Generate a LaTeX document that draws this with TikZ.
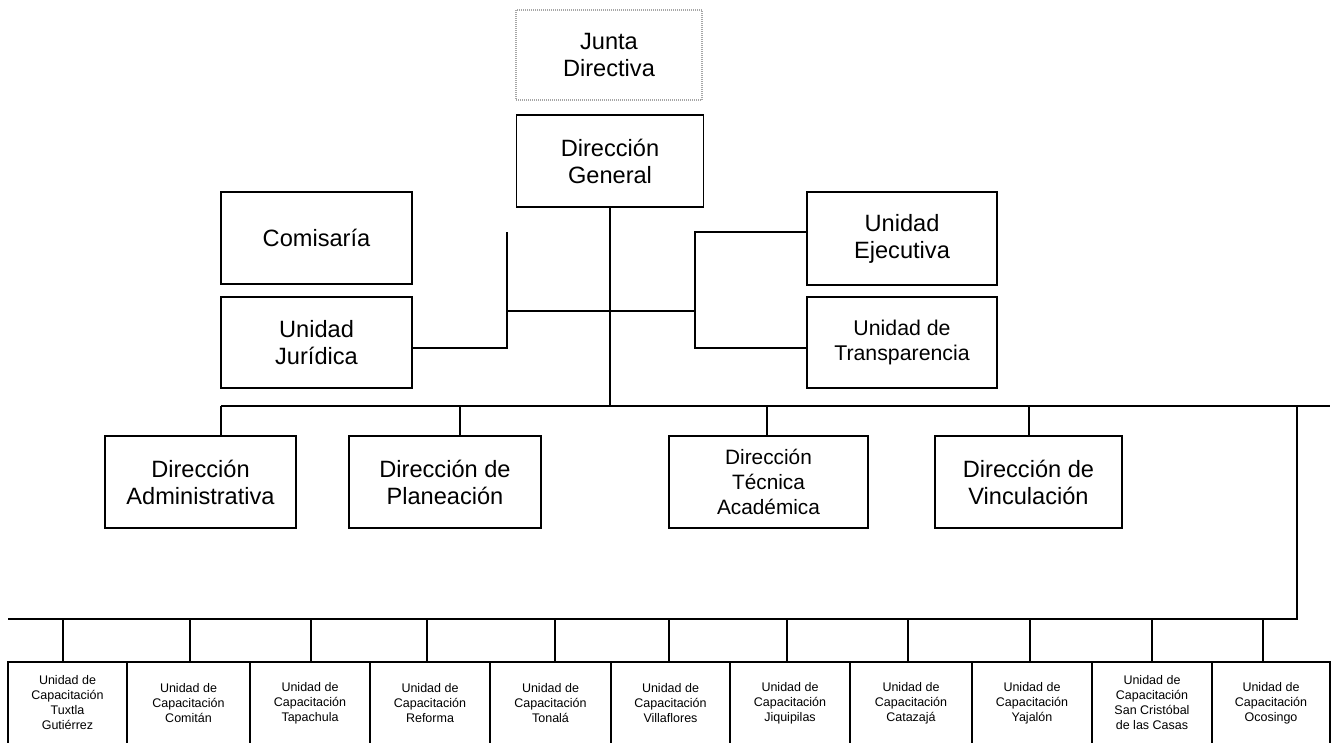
\documentclass[tikz,border=0pt]{standalone}
\usepackage{fontspec}
\setmainfont{Liberation Sans}
\begin{document}
\begin{tikzpicture}[x=1pt,y=-1pt,
  box/.style={draw, line width=1.9pt, align=center, inner sep=0pt, font=\fontsize{23.6}{27}\selectfont},
  midbox/.style={box, font=\fontsize{21.3}{25}\selectfont},
  tecbox/.style={box, font=\fontsize{20.8}{25}\selectfont},
  ubox/.style={draw, line width=1.9pt, align=center, inner sep=0pt, font=\fontsize{12.5}{15}\selectfont},
  dotbox/.style={draw=gray!70, line width=1.2pt, dash pattern=on 1pt off 1pt, align=center, inner sep=0pt, font=\fontsize{23.6}{27}\selectfont},
  sz/.style 2 args={minimum width=#1pt, minimum height=#2pt},
  conn/.style={line width=1.9pt}]
\useasboundingbox (0,0) rectangle (1335,742);

% top
\node[dotbox, sz={186}{90}] (junta) at (609,55) {Junta\\Directiva};
\node[box, sz={187}{92}] (dg) at (610,161) {Dirección\\General};

% staff units
\node[box, sz={191}{92}] (comisaria) at (316.5,238) {Comisaría};
\node[box, sz={191}{91}] (juridica) at (316.5,342.5) {Unidad\\Jurídica};
\node[box, sz={190}{93}] (ejecutiva) at (902,238.5) {Unidad\\Ejecutiva};
\node[midbox, sz={190}{91}] (transparencia) at (902,342.5) {Unidad de\\Transparencia};

% directions
\node[box, sz={191}{92}] (admin) at (200.5,482) {Dirección\\Administrativa};
\node[box, sz={192}{92}] (planeacion) at (445,482) {Dirección de\\Planeación};
\node[tecbox, sz={199}{92}] (tecnica) at (768.5,482) {Dirección\\Técnica\\Académica};
\node[box, sz={187}{92}] (vinculacion) at (1028.5,482) {Dirección de\\Vinculación};

% training units
\node[ubox, sz={119}{82}] (u1) at (67.5,703) {Unidad de\\Capacitación\\Tuxtla\\Gutiérrez};
\node[ubox, sz={123}{82}] (u2) at (188.5,703) {Unidad de\\Capacitación\\Comitán};
\node[ubox, sz={120}{82}] (u3) at (310,703) {Unidad de\\Capacitación\\Tapachula};
\node[ubox, sz={120}{82}] (u4) at (430,703) {Unidad de\\Capacitación\\Reforma};
\node[ubox, sz={121}{82}] (u5) at (550.5,703) {Unidad de\\Capacitación\\Tonalá};
\node[ubox, sz={119}{82}] (u6) at (670.5,703) {Unidad de\\Capacitación\\Villaflores};
\node[ubox, sz={120}{82}] (u7) at (790,703) {Unidad de\\Capacitación\\Jiquipilas};
\node[ubox, sz={122}{82}] (u8) at (911,703) {Unidad de\\Capacitación\\Catazajá};
\node[ubox, sz={120}{82}] (u9) at (1032,703) {Unidad de\\Capacitación\\Yajalón};
\node[ubox, sz={120}{82}] (u10) at (1152,703) {Unidad de\\Capacitación\\San Cristóbal\\de las Casas};
\node[ubox, sz={118}{82}] (u11) at (1271,703) {Unidad de\\Capacitación\\Ocosingo};

% connectors
\coordinate (hl) at (221,406);
\coordinate (hr) at (1330,406);
\draw[conn] (hl) -- (hr);
\draw[conn] (dg.south) -- (dg.south |- hl);

\coordinate (jl) at (507,232);
\coordinate (jlb) at (507,348);
\coordinate (jm) at (507,311);
\coordinate (jr) at (695,311);
\coordinate (er) at (695,232);
\coordinate (erb) at (695,348);
\draw[conn] (jl) -- (jlb) -- (jlb -| juridica.east);
\draw[conn] (jm) -- (jr);
\draw[conn] (er -| ejecutiva.west) -- (er) -- (erb) -- (erb -| transparencia.west);

\foreach \x/\n in {221/admin, 460/planeacion, 767/tecnica, 1029/vinculacion}{
  \coordinate (tk) at (\x,406);
  \draw[conn] (tk) -- (tk |- \n.north);
}

\coordinate (rv) at (1297,406);
\coordinate (rb) at (1297,619);
\coordinate (bl) at (8,619);
\draw[conn] (rv) -- (rb) -- (bl);

\foreach \x/\n in {63/u1, 190/u2, 311/u3, 427/u4, 555/u5, 669/u6, 787/u7, 908/u8, 1030/u9, 1152/u10, 1263/u11}{
  \coordinate (tb) at (\x,619);
  \draw[conn] (tb) -- (tb |- \n.north);
}
\end{tikzpicture}
\end{document}
